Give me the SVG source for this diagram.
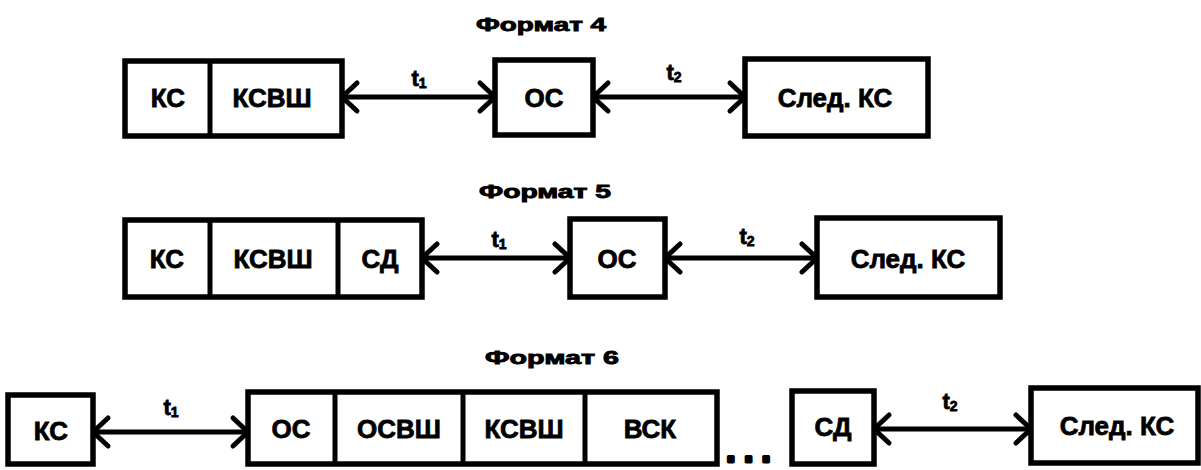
<svg xmlns="http://www.w3.org/2000/svg" width="1201" height="470" viewBox="0 0 1201 470">
<style>
.box{fill:#fff;stroke:#000;stroke-width:5.5}
.div{stroke:#000;stroke-width:5}
.lbl{font-family:"Liberation Sans",Arial,sans-serif;font-weight:bold;font-size:26px;text-anchor:middle;fill:#000;stroke:#000;stroke-width:0.8}
.ttl{font-family:"Liberation Sans",Arial,sans-serif;font-weight:bold;font-size:19px;text-anchor:middle;fill:#000;stroke:#000;stroke-width:0.9}
.t{font-family:"Liberation Sans",Arial,sans-serif;font-weight:bold;font-size:22px;text-anchor:middle;fill:#000;stroke:#000;stroke-width:0.8}
.sub{font-size:14px}
.con{stroke:#000;stroke-width:5;fill:none;marker-start:url(#ah);marker-end:url(#ah)}
</style>
<defs>
<marker id="ah" markerUnits="userSpaceOnUse" viewBox="-22 -20 26 40" refX="0" refY="0" markerWidth="26" markerHeight="40" orient="auto-start-reverse">
<path d="M-15,-14 L0,0 L-15,14" fill="none" stroke="#000" stroke-width="5" stroke-linejoin="round" stroke-linecap="round"/>
</marker>
</defs>
<rect width="1201" height="470" fill="#fff"/>

<text class="ttl" x="541" y="31" textLength="130" lengthAdjust="spacingAndGlyphs">Формат 4</text>
<text class="ttl" x="545" y="198" textLength="132" lengthAdjust="spacingAndGlyphs">Формат 5</text>
<text class="ttl" x="552" y="364" textLength="134" lengthAdjust="spacingAndGlyphs">Формат 6</text>

<g id="connectors">
<line class="con" x1="342" y1="97" x2="495" y2="97"/>
<line class="con" x1="593" y1="97" x2="745" y2="97"/>
<line class="con" x1="422" y1="258" x2="570" y2="258"/>
<line class="con" x1="665" y1="258" x2="817" y2="258"/>
<line class="con" x1="93" y1="432" x2="248" y2="432"/>
<line class="con" x1="874" y1="429" x2="1031" y2="429"/>
<text class="t" x="419" y="86">t<tspan class="sub" dy="2">1</tspan></text>
<text class="t" x="674" y="80">t<tspan class="sub" dy="2">2</tspan></text>
<text class="t" x="499" y="247">t<tspan class="sub" dy="2">1</tspan></text>
<text class="t" x="747" y="244">t<tspan class="sub" dy="2">2</tspan></text>
<text class="t" x="171" y="415">t<tspan class="sub" dy="2">1</tspan></text>
<text class="t" x="950" y="409">t<tspan class="sub" dy="2">2</tspan></text>
</g>

<g id="f4-ks">
<rect class="box" x="125" y="61" width="217" height="75"/>
<line class="div" x1="210" y1="61" x2="210" y2="136"/>
<text class="lbl" x="168" y="107">КС</text>
<text class="lbl" x="272" y="107">КСВШ</text>
</g>
<g id="f4-os">
<rect class="box" x="495" y="60" width="98" height="75"/>
<text class="lbl" x="544" y="107">ОС</text>
</g>
<g id="f4-next">
<rect class="box" x="745" y="59" width="183" height="77"/>
<text class="lbl" x="835" y="107">След. КС</text>
</g>

<g id="f5-ks">
<rect class="box" x="125" y="220" width="297" height="77"/>
<line class="div" x1="210" y1="220" x2="210" y2="297"/>
<line class="div" x1="338" y1="220" x2="338" y2="297"/>
<text class="lbl" x="167" y="268">КС</text>
<text class="lbl" x="273" y="268">КСВШ</text>
<text class="lbl" x="380" y="268">СД</text>
</g>
<g id="f5-os">
<rect class="box" x="570" y="219" width="95" height="78"/>
<text class="lbl" x="617" y="268">ОС</text>
</g>
<g id="f5-next">
<rect class="box" x="817" y="218" width="183" height="79"/>
<text class="lbl" x="908" y="268">След. КС</text>
</g>

<g id="f6-ks">
<rect class="box" x="8" y="395" width="85" height="69"/>
<text class="lbl" x="51" y="440">КС</text>
</g>
<g id="f6-os">
<rect class="box" x="248" y="392" width="469" height="72"/>
<line class="div" x1="335" y1="392" x2="335" y2="464"/>
<line class="div" x1="463" y1="392" x2="463" y2="464"/>
<line class="div" x1="585" y1="392" x2="585" y2="464"/>
<text class="lbl" x="291" y="438">ОС</text>
<text class="lbl" x="399" y="438">ОСВШ</text>
<text class="lbl" x="524" y="438">КСВШ</text>
<text class="lbl" x="650" y="438">ВСК</text>
</g>
<g id="f6-dots">
<text x="752" y="462" font-family="DejaVu Sans,sans-serif" font-weight="bold" font-size="28" text-anchor="middle" letter-spacing="7" stroke="#000" stroke-width="3" stroke-linejoin="round">...</text>
</g>
<g id="f6-sd">
<rect class="box" x="792" y="391" width="82" height="73"/>
<text class="lbl" x="833" y="436">СД</text>
</g>
<g id="f6-next">
<rect class="box" x="1031" y="388" width="167" height="75"/>
<text class="lbl" x="1117" y="435">След. КС</text>
</g>
</svg>
